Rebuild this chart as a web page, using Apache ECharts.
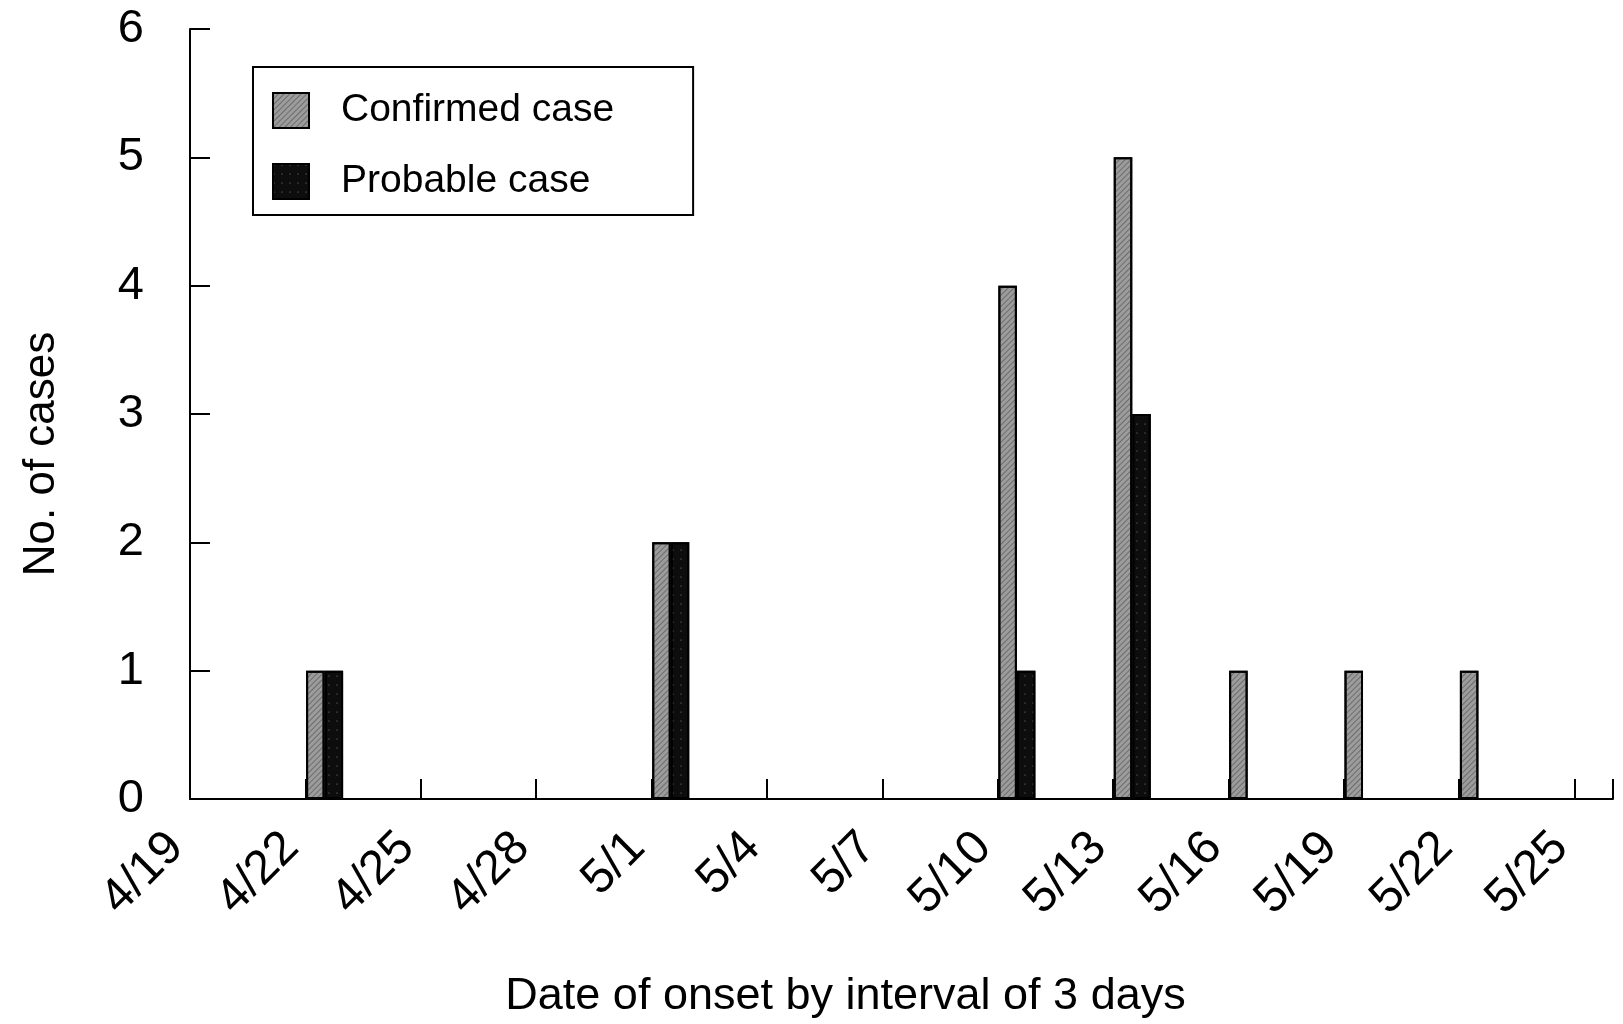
<!DOCTYPE html>
<html>
<head>
<meta charset="utf-8">
<title>Date of onset by interval of 3 days</title>
<script src="https://cdn.jsdelivr.net/npm/echarts@6/dist/echarts.min.js"></script>
<style>
    html, body { margin: 0; padding: 0; background: #fff; }
    #chart { width: 1623px; height: 1024px; }
</style>
</head>
<body>
<div id="chart"></div>
<script>
// start day of each 3-day interval
var intervalStarts = ['4/19', '4/22', '4/25', '4/28', '5/1', '5/4', '5/7',
                      '5/10', '5/13', '5/16', '5/19', '5/22', '5/25'];
var confirmedCases = [0, 1, 0, 0, 2, 0, 0, 4, 5, 1, 1, 1, 0];
var probableCases  = [0, 1, 0, 0, 2, 0, 0, 1, 3, 0, 0, 0, 0];
var seriesNames = ['Confirmed case', 'Probable case'];

var FONT = '"Liberation Sans", Arial, sans-serif';

// daily category axis, a bar sits on the first day of its interval
var nDays = (intervalStarts.length - 1) * 3 + 1;
var days = [], confData = [], probData = [];
var start = new Date(2003, 3, 19);
for (var k = 0; k < nDays; k++) {
    var d = new Date(start.getTime() + k * 24 * 3600 * 1000);
    days.push((d.getMonth() + 1) + '/' + d.getDate());
    if (k % 3 === 0) {
        var c = confirmedCases[k / 3], p = probableCases[k / 3];
        confData.push(c ? c : '-');
        probData.push(p ? p : '-');
    } else {
        confData.push('-');
        probData.push('-');
    }
}

var chart = echarts.init(document.getElementById('chart'));

var option = {
    animation: false,
    backgroundColor: '#fff',
    textStyle: { fontFamily: FONT, color: '#000' },
    grid: { left: 190, right: 10, top: 29, bottom: 223, containLabel: false },
    legend: {
        data: seriesNames,
        orient: 'vertical',
        left: 253,
        top: 67,
        icon: 'rect',
        itemWidth: 36,
        itemHeight: 35,
        itemGap: 32,
        selectedMode: false,
        padding: [24, 79, 14, 19],
        borderColor: '#000',
        borderWidth: 2,
        backgroundColor: '#fff',
        textStyle: { fontSize: 39, color: '#000', fontFamily: FONT, padding: [0, 0, 0, 27] }
    },
    xAxis: {
        type: 'category',
        data: days,
        boundaryGap: true,
        name: 'Date of onset by interval of 3 days',
        nameLocation: 'middle',
        nameGap: 175,
        nameTextStyle: { fontSize: 45, color: '#000', fontFamily: FONT, padding: [0, 112, 0, 0] },
        axisLine: { lineStyle: { color: '#000', width: 2 } },
        axisTick: { show: true, inside: true, length: 20, interval: 2, alignWithLabel: false,
                    lineStyle: { color: '#000', width: 2 } },
        axisLabel: {
            interval: 2,
            rotate: 45,
            margin: 8,
            fontSize: 48,
            color: '#000',
            fontFamily: FONT,
            padding: [0, 47, 0, 0]
        },
        splitLine: { show: false }
    },
    yAxis: {
        type: 'value',
        min: 0,
        max: 6,
        interval: 1,
        name: 'No. of cases',
        nameLocation: 'middle',
        nameGap: 126,
        nameTextStyle: { fontSize: 44, color: '#000', fontFamily: FONT, padding: [0, 80, 0, 0] },
        axisLine: { show: true, lineStyle: { color: '#000', width: 2 } },
        axisTick: { show: true, inside: true, length: 20, lineStyle: { color: '#000', width: 2 } },
        axisLabel: { margin: 46, fontSize: 47, color: '#000', fontFamily: FONT },
        splitLine: { show: false }
    },
    series: [
        {
            name: seriesNames[0],
            type: 'bar',
            data: confData,
            barWidth: 18.5,
            barGap: '0%',
            itemStyle: {
                color: '#9c9c9c',
                borderColor: '#000',
                borderWidth: 2,
                decal: {
                    symbol: 'rect',
                    symbolSize: 1,
                    color: 'rgba(70,70,70,0.55)',
                    dashArrayX: [1, 0],
                    dashArrayY: [1, 3],
                    rotation: -Math.PI / 4
                }
            }
        },
        {
            name: seriesNames[1],
            type: 'bar',
            data: probData,
            barWidth: 18.5,
            barGap: '0%',
            itemStyle: {
                color: '#0d0d0d',
                borderColor: '#000',
                borderWidth: 2,
                decal: {
                    symbol: 'circle',
                    symbolSize: 0.5,
                    color: 'rgba(200,200,200,0.8)',
                    dashArrayX: [2, 6],
                    dashArrayY: [2, 7],
                    rotation: 0
                }
            }
        }
    ]
};

chart.setOption(option);
</script>
</body>
</html>
